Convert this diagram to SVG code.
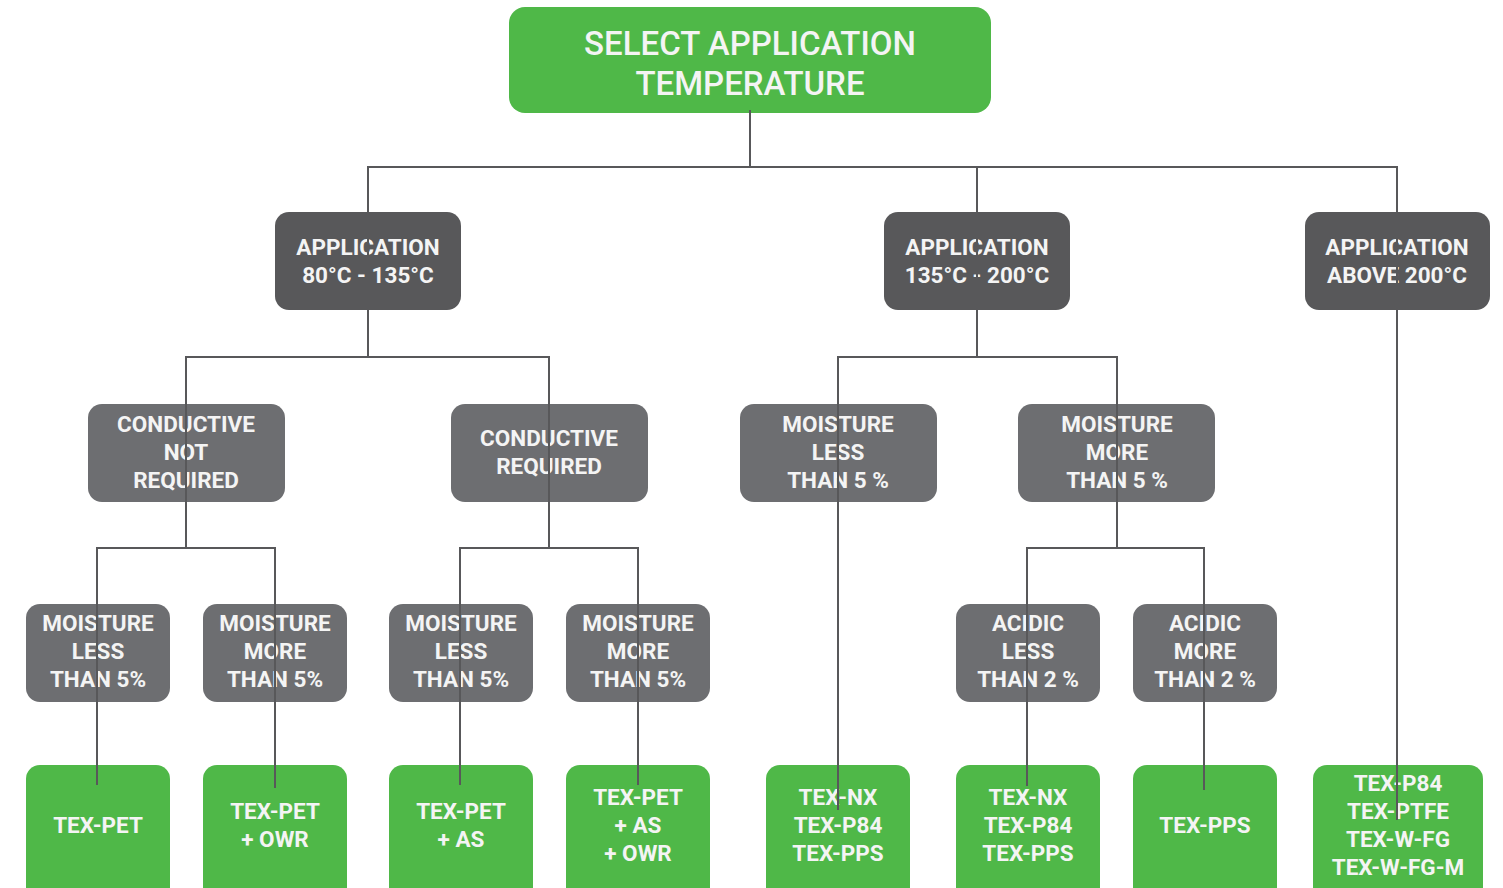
<svg xmlns="http://www.w3.org/2000/svg" width="1503" height="888" viewBox="0 0 1503 888">
<style>
.g{fill:#4fb848}
.d{fill:#58585a}
.m{fill:#6d6e71}
text{font-family:Roboto,"Liberation Sans",sans-serif;fill:#f4f4f4;text-anchor:middle;dominant-baseline:central}
.t{font-size:33px;font-weight:500}
.s{font-size:22.5px;font-weight:700}
.c line{stroke:#58585a;stroke-width:2}
</style>
<rect width="1503" height="888" fill="#ffffff"/>
<g id="n0"><rect class="g" x="509" y="7" width="482" height="106" rx="16"/><text class="t" x="750" y="43">SELECT APPLICATION</text><text class="t" x="750" y="83">TEMPERATURE</text></g>
<g id="a1"><rect class="d" x="275" y="212" width="186" height="98" rx="14"/><text class="s" x="368" y="247">APPLICATION</text><text class="s" x="368" y="275">80°C - 135°C</text></g>
<g id="a2"><rect class="d" x="884" y="212" width="186" height="98" rx="14"/><text class="s" x="977" y="247">APPLICATION</text><text class="s" x="977" y="275">135°C - 200°C</text></g>
<g id="a3"><rect class="d" x="1305" y="212" width="185" height="98" rx="14"/><text class="s" x="1397" y="247">APPLICATION</text><text class="s" x="1397" y="275">ABOVE 200°C</text></g>
<g id="b1"><rect class="m" x="88" y="404" width="197" height="98" rx="14"/><text class="s" x="186" y="424">CONDUCTIVE</text><text class="s" x="186" y="452">NOT</text><text class="s" x="186" y="480">REQUIRED</text></g>
<g id="b2"><rect class="m" x="451" y="404" width="197" height="98" rx="14"/><text class="s" x="549" y="438">CONDUCTIVE</text><text class="s" x="549" y="466">REQUIRED</text></g>
<g id="b3"><rect class="m" x="740" y="404" width="197" height="98" rx="14"/><text class="s" x="838" y="424">MOISTURE</text><text class="s" x="838" y="452">LESS</text><text class="s" x="838" y="480">THAN 5 %</text></g>
<g id="b4"><rect class="m" x="1018" y="404" width="197" height="98" rx="14"/><text class="s" x="1117" y="424">MOISTURE</text><text class="s" x="1117" y="452">MORE</text><text class="s" x="1117" y="480">THAN 5 %</text></g>
<g id="c1"><rect class="m" x="26" y="604" width="144" height="98" rx="14"/><text class="s" x="98" y="623">MOISTURE</text><text class="s" x="98" y="651">LESS</text><text class="s" x="98" y="679">THAN 5%</text></g>
<g id="c2"><rect class="m" x="203" y="604" width="144" height="98" rx="14"/><text class="s" x="275" y="623">MOISTURE</text><text class="s" x="275" y="651">MORE</text><text class="s" x="275" y="679">THAN 5%</text></g>
<g id="c3"><rect class="m" x="389" y="604" width="144" height="98" rx="14"/><text class="s" x="461" y="623">MOISTURE</text><text class="s" x="461" y="651">LESS</text><text class="s" x="461" y="679">THAN 5%</text></g>
<g id="c4"><rect class="m" x="566" y="604" width="144" height="98" rx="14"/><text class="s" x="638" y="623">MOISTURE</text><text class="s" x="638" y="651">MORE</text><text class="s" x="638" y="679">THAN 5%</text></g>
<g id="c5"><rect class="m" x="956" y="604" width="144" height="98" rx="14"/><text class="s" x="1028" y="623">ACIDIC</text><text class="s" x="1028" y="651">LESS</text><text class="s" x="1028" y="679">THAN 2 %</text></g>
<g id="c6"><rect class="m" x="1133" y="604" width="144" height="98" rx="14"/><text class="s" x="1205" y="623">ACIDIC</text><text class="s" x="1205" y="651">MORE</text><text class="s" x="1205" y="679">THAN 2 %</text></g>
<g id="p1"><rect class="g" x="26" y="765" width="144" height="140" rx="14"/><text class="s" x="98" y="825">TEX-PET</text></g>
<g id="p2"><rect class="g" x="203" y="765" width="144" height="140" rx="14"/><text class="s" x="275" y="811">TEX-PET</text><text class="s" x="275" y="839">+ OWR</text></g>
<g id="p3"><rect class="g" x="389" y="765" width="144" height="140" rx="14"/><text class="s" x="461" y="811">TEX-PET</text><text class="s" x="461" y="839">+ AS</text></g>
<g id="p4"><rect class="g" x="566" y="765" width="144" height="140" rx="14"/><text class="s" x="638" y="797">TEX-PET</text><text class="s" x="638" y="825">+ AS</text><text class="s" x="638" y="853">+ OWR</text></g>
<g id="p5"><rect class="g" x="766" y="765" width="144" height="140" rx="14"/><text class="s" x="838" y="797">TEX-NX</text><text class="s" x="838" y="825">TEX-P84</text><text class="s" x="838" y="853">TEX-PPS</text></g>
<g id="p6"><rect class="g" x="956" y="765" width="144" height="140" rx="14"/><text class="s" x="1028" y="797">TEX-NX</text><text class="s" x="1028" y="825">TEX-P84</text><text class="s" x="1028" y="853">TEX-PPS</text></g>
<g id="p7"><rect class="g" x="1133" y="765" width="144" height="140" rx="14"/><text class="s" x="1205" y="825">TEX-PPS</text></g>
<g id="p8"><rect class="g" x="1313" y="765" width="170" height="140" rx="14"/><text class="s" x="1398" y="783">TEX-P84</text><text class="s" x="1398" y="811">TEX-PTFE</text><text class="s" x="1398" y="839">TEX-W-FG</text><text class="s" x="1398" y="867">TEX-W-FG-M</text></g>
<g id="connectors" class="c">
<line x1="750" y1="110" x2="750" y2="167"/>
<line x1="367" y1="167" x2="1398" y2="167"/>
<line x1="368" y1="166" x2="368" y2="358"/>
<line x1="977" y1="166" x2="977" y2="358"/>
<line x1="1397" y1="166" x2="1397" y2="820"/>
<line x1="185" y1="357" x2="550" y2="357"/>
<line x1="837" y1="357" x2="1118" y2="357"/>
<line x1="186" y1="356" x2="186" y2="549"/>
<line x1="549" y1="356" x2="549" y2="549"/>
<line x1="838" y1="356" x2="838" y2="810"/>
<line x1="1117" y1="356" x2="1117" y2="549"/>
<line x1="96" y1="548" x2="276" y2="548"/>
<line x1="459" y1="548" x2="639" y2="548"/>
<line x1="1026" y1="548" x2="1205" y2="548"/>
<line x1="97" y1="547" x2="97" y2="785"/>
<line x1="275" y1="547" x2="275" y2="788"/>
<line x1="460" y1="547" x2="460" y2="785"/>
<line x1="638" y1="547" x2="638" y2="785"/>
<line x1="1027" y1="547" x2="1027" y2="786"/>
<line x1="1204" y1="547" x2="1204" y2="790"/>
</g>
</svg>
